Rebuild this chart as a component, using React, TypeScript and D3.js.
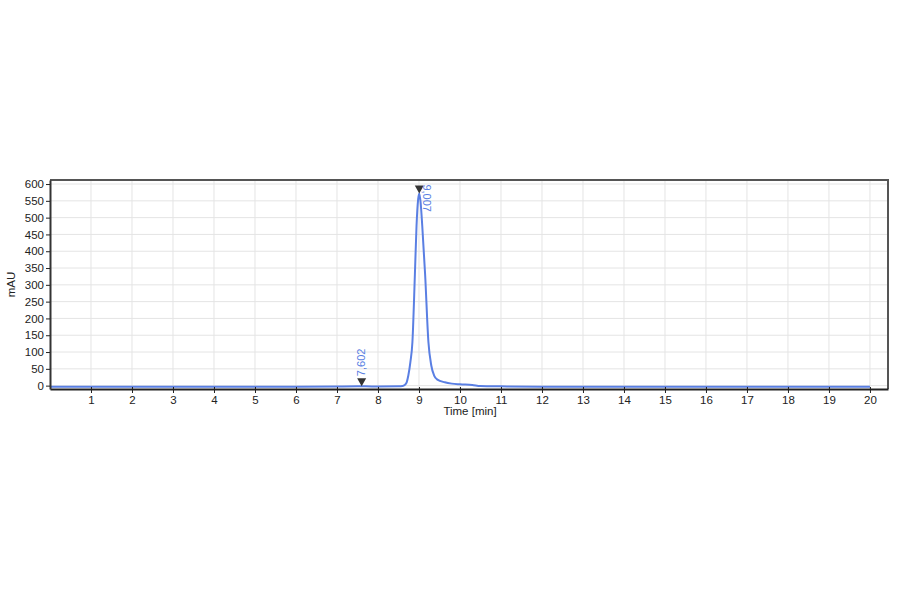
import { useRef, useEffect } from 'react';
import * as d3 from 'd3';

// chromatogram trace (time in min, signal in mAU)
const TIME = [
  0, 1, 2, 3, 4, 5, 6, 7, 7.5, 7.602, 7.7, 8, 8.5, 8.6, 8.65, 8.7, 8.74, 8.79, 8.84, 8.9,
  8.94, 8.98, 9.007, 9.04, 9.08, 9.15, 9.23, 9.3, 9.37, 9.45, 9.63, 9.8, 10.0, 10.3, 10.5,
  11, 12, 13, 14, 15, 16, 17, 18, 19, 20,
];
const SIGNAL = [
  -3, -3, -3, -3, -3, -3, -3, -2.5, -2, -1.5, -2, -2.5, -2, -1, 2, 10, 30, 70, 130, 330,
  475, 555, 572, 545, 475, 330, 130, 60, 30, 18, 10, 6, 4, 2, -1,
  -2, -3, -3, -3, -3, -3, -3, -3, -3, -3,
];

// labelled peaks
const PEAK_TIMES = [7.602, 9.007];
const PEAK_LABELS = ['7,602', '9,007'];
const PEAK_HEIGHTS = [-1.5, 572];

const X_TICKS = d3.range(1, 21);
const Y_TICKS = d3.range(0, 601, 50);

export default function App() {
  const svgRef = useRef<SVGSVGElement>(null);

  useEffect(() => {
    if (!svgRef.current) return;
    const svg = d3.select(svgRef.current);
    svg.selectAll('*').remove();

    const width = 900;
    const height = 594;
    const margin = { top: 180, right: 12, bottom: 205, left: 50 };
    const innerW = width - margin.left - margin.right;
    const innerH = height - margin.top - margin.bottom;

    svg.attr('viewBox', `0 0 ${width} ${height}`);

    const xScale = d3.scaleLinear().domain([0, 20.44]).range([0, innerW]);
    const yScale = d3.scaleLinear().domain([-10, 612]).range([innerH, 0]);

    const g = svg.append('g').attr('transform', `translate(${margin.left},${margin.top})`);

    // Grid
    g.append('g')
      .selectAll('line')
      .data(Y_TICKS)
      .join('line')
      .attr('x1', 0).attr('x2', innerW)
      .attr('y1', (d) => yScale(d)).attr('y2', (d) => yScale(d))
      .attr('stroke', '#e4e4e4');
    g.append('g')
      .selectAll('line')
      .data(X_TICKS)
      .join('line')
      .attr('y1', 0).attr('y2', innerH)
      .attr('x1', (d) => xScale(d)).attr('x2', (d) => xScale(d))
      .attr('stroke', '#e4e4e4');

    // Frame top/right
    g.append('path')
      .attr('d', `M0,0H${innerW}V${innerH}`)
      .attr('fill', 'none')
      .attr('stroke', '#555')
      .attr('stroke-width', 2);

    // Trace
    const points = TIME.map((t, i) => ({ x: t, y: SIGNAL[i] }));
    const line = d3.line<{ x: number; y: number }>()
      .x((d) => xScale(d.x))
      .y((d) => yScale(d.y))
      .curve(d3.curveMonotoneX);
    g.append('path')
      .datum(points)
      .attr('d', line)
      .attr('fill', 'none')
      .attr('stroke', '#5a7fe3')
      .attr('stroke-width', 2);

    // Peak markers + labels
    PEAK_TIMES.forEach((t, i) => {
      const px = xScale(t);
      const py = yScale(PEAK_HEIGHTS[i]);
      g.append('path')
        .attr('d', `M${px - 4.5},${py - 8}L${px + 4.5},${py - 8}L${px},${py}Z`)
        .attr('fill', '#333');
      if (i === 0) {
        g.append('text')
          .attr('transform', `translate(${px + 3.5},${py - 10}) rotate(-90)`)
          .attr('fill', '#5a7fe3')
          .style('font-family', 'Liberation Sans, Arial, sans-serif')
          .style('font-size', '11px')
          .text(PEAK_LABELS[i]);
      } else {
        g.append('text')
          .attr('transform', `translate(${px + 4},${py - 9}) rotate(90)`)
          .attr('fill', '#5a7fe3')
          .style('font-family', 'Liberation Sans, Arial, sans-serif')
          .style('font-size', '11px')
          .text(PEAK_LABELS[i]);
      }
    });

    // Axes
    g.append('g')
      .attr('transform', `translate(0,${innerH})`)
      .call(d3.axisBottom(xScale).tickValues(X_TICKS).tickSize(4).tickSizeOuter(0).tickFormat(d3.format('d')))
      .call((a) => {
        a.selectAll('text').attr('fill', '#222').style('font-size', '11.5px')
          .style('font-family', 'Liberation Sans, Arial, sans-serif');
        a.selectAll('line').attr('stroke', '#222').attr('y1', -2);
        a.select('.domain').attr('stroke', '#222').attr('stroke-width', 2);
      });
    g.append('g')
      .call(d3.axisLeft(yScale).tickValues(Y_TICKS).tickSize(4).tickSizeOuter(0).tickPadding(2))
      .call((a) => {
        a.selectAll('text').attr('fill', '#222').style('font-size', '11.5px')
          .style('font-family', 'Liberation Sans, Arial, sans-serif');
        a.selectAll('line').attr('stroke', '#222');
        a.select('.domain').attr('stroke', '#333').attr('stroke-width', 2);
      });

    // Labels
    svg.append('text')
      .attr('x', 470).attr('y', 415)
      .attr('text-anchor', 'middle')
      .attr('fill', '#222')
      .style('font-family', 'Liberation Sans, Arial, sans-serif')
      .style('font-size', '11.5px')
      .text('Time [min]');
    svg.append('text')
      .attr('transform', `translate(15, ${margin.top + innerH / 2}) rotate(-90)`)
      .attr('text-anchor', 'middle')
      .attr('fill', '#222')
      .style('font-family', 'Liberation Sans, Arial, sans-serif')
      .style('font-size', '11.5px')
      .text('mAU');
  }, []);

  return (
    <svg
      ref={svgRef}
      width={900}
      height={594}
      style={{ position: 'absolute', left: 0, top: 0, background: '#fff' }}
    />
  );
}
